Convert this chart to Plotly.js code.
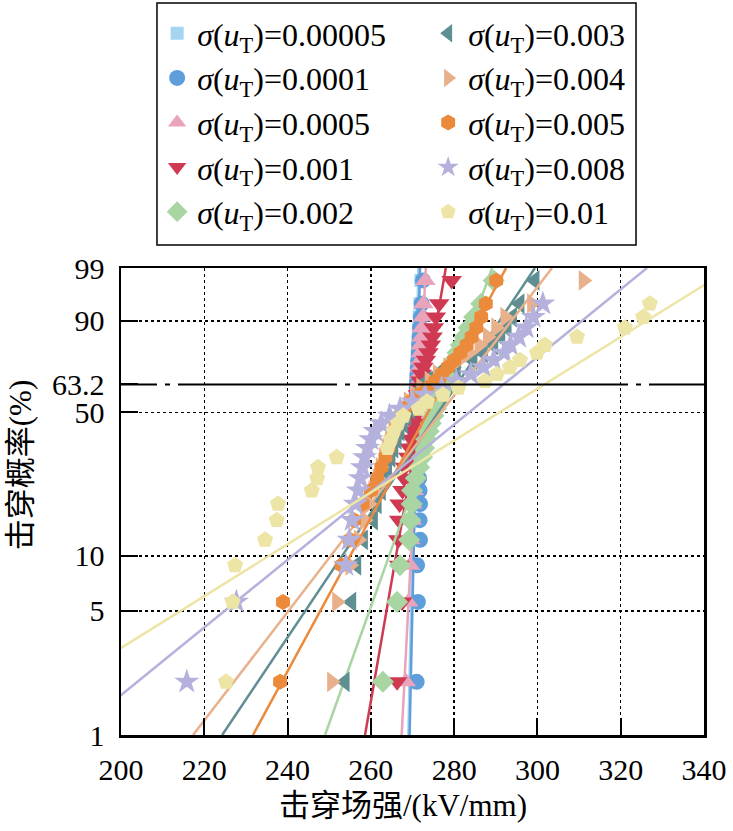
<!DOCTYPE html>
<html><head><meta charset="utf-8">
<script src="https://cdn.plot.ly/plotly-3.0.1.min.js"></script>
<style>html,body{margin:0;padding:0;background:#fff}</style>
</head><body><div id="chart" style="width:733px;height:831px"></div>
<script>
// Breakdown probability levels (%) shared by all series (median ranks)
const probLevels = [2.0, 5.6, 8.9, 12.2, 15.5, 18.8, 22.0, 25.3, 28.6, 31.9, 35.2, 38.5, 41.8, 45.1, 48.4, 51.6, 54.9, 58.2, 61.5, 64.8, 68.1, 71.4, 74.7, 78.0, 81.3, 84.5, 87.8, 91.1, 94.4, 98.0];

const sigmaLabels = ['0.00005', '0.0001', '0.0005', '0.001', '0.002', '0.003', '0.004', '0.005', '0.008', '0.01'];

// Breakdown field strength (kV/mm) for each series
const s_00005 = [270.5, 270.8, 270.7, 271.2, 271.2, 271.3, 271.2, 271.1, 271.0, 270.9, 270.8, 270.7, 270.6, 270.6, 270.6, 270.6, 270.7, 270.7, 270.8, 270.8, 270.9, 271.0, 271.1, 271.2, 271.3, 271.4, 271.5, 271.6, 271.8, 272.0];
const s_0001 = [271.0, 271.3, 271.1, 271.8, 271.7, 271.8, 271.7, 271.6, 271.4, 271.3, 271.2, 271.0, 270.9, 270.9, 270.8, 270.9, 270.9, 271.0, 271.0, 271.1, 271.2, 271.3, 271.4, 271.5, 271.6, 271.7, 271.8, 272.0, 272.2, 272.5];
const s_0005 = [268.4, 269.0, 269.4, 269.5, 269.9, 270.0, 270.3, 270.3, 270.5, 270.6, 270.6, 270.8, 270.9, 270.9, 271.1, 271.2, 271.2, 271.4, 271.4, 271.6, 271.7, 271.7, 271.9, 272.0, 272.0, 272.2, 272.3, 272.5, 272.6, 273.1];
const s_001 = [266.3, 267.5, 266.8, 266.6, 266.8, 266.9, 267.6, 268.0, 268.2, 269.0, 269.3, 269.8, 270.0, 270.3, 270.5, 270.8, 271.0, 271.3, 271.6, 271.9, 272.2, 272.6, 273.2, 273.8, 274.4, 274.8, 275.1, 275.6, 276.4, 279.4];
const s_002 = [262.9, 266.3, 267.0, 269.2, 269.5, 269.8, 269.9, 270.8, 271.6, 272.3, 272.8, 273.3, 273.9, 274.4, 275.0, 275.6, 276.1, 276.7, 277.3, 278.0, 278.6, 279.3, 280.0, 280.8, 281.6, 282.5, 283.5, 284.8, 286.5, 289.5];
const s_003 = [253.8, 255.4, 256.6, 258.2, 260.6, 261.5, 262.5, 263.2, 264.0, 264.8, 265.5, 266.3, 267.0, 267.8, 268.6, 269.5, 270.4, 271.3, 272.3, 273.5, 276.0, 280.5, 284.5, 287.0, 289.5, 291.2, 292.7, 294.0, 295.8, 299.4];
const s_004 = [250.6, 251.8, 255.0, 257.0, 258.5, 259.5, 260.5, 261.5, 262.3, 263.0, 263.8, 264.5, 265.3, 266.0, 267.0, 268.0, 269.0, 270.5, 272.0, 274.0, 276.0, 278.5, 281.0, 283.5, 286.0, 288.0, 290.0, 292.2, 298.6, 311.0];
const s_005 = [238.2, 238.9, 253.0, 255.0, 256.0, 258.0, 260.0, 261.5, 262.5, 263.5, 264.2, 264.8, 265.5, 266.2, 267.0, 268.0, 269.5, 271.5, 273.5, 275.5, 277.0, 278.5, 280.0, 281.5, 283.0, 284.2, 285.3, 286.5, 287.6, 290.1];
const s_008 = [215.8, 227.7, 254.0, 254.8, 255.5, 256.3, 257.0, 257.5, 258.0, 258.5, 259.2, 260.0, 261.0, 262.5, 264.5, 267.0, 270.0, 273.0, 277.0, 280.5, 284.0, 287.0, 289.5, 292.0, 293.5, 295.5, 297.3, 299.0, 301.3, 345.0];
const s_01 = [225.2, 226.8, 227.4, 234.6, 237.4, 237.7, 245.8, 247.1, 247.3, 251.8, 264.0, 264.8, 265.5, 266.5, 267.8, 271.5, 273.5, 277.3, 281.0, 287.4, 290.3, 293.4, 295.8, 299.9, 301.8, 309.5, 321.0, 325.4, 327.0, 346.0];

// Weibull fit lines: field strength at 1 % and at 99 % probability
const fitAt1 = [269.0, 269.3, 267.4, 258.6, 249.0, 224.3, 217.3, 231.7, 188.2, 166.4];
const fitAt99 = [271.4, 271.8, 273.2, 278.0, 289.1, 299.4, 303.5, 292.5, 326.3, 346.6];

const xTicks = [200, 220, 240, 260, 280, 300, 320, 340];
const yTickLabels = ['1', '5', '10', '50', '63.2', '90', '99'];
const yTickProbs = [1, 5, 10, 50, 63.2, 90, 99];
const yGridProbs = [5, 10, 50, 90];

const seriesData = [s_00005, s_0001, s_0005, s_001, s_002, s_003, s_004, s_005, s_008, s_01];
const colors = ['#a4d4f2', '#5d9edb', '#e9a3bb', '#cf3a52', '#a9d5a3', '#5f8e93', '#e8b18c', '#ec8a3c', '#b4b2dc', '#ece5a5'];
const symbols = ['square', 'circle', 'triangle-up', 'triangle-down', 'diamond', 'triangle-left', 'triangle-right', 'hexagon', 'star', 'pentagon'];
const sizes = [13, 16, 18, 18, 17, 18, 18, 16, 19, 17];

function weib(p) { return Math.log(-Math.log(1 - p / 100)); }
const yLo = weib(1), yHi = weib(99);
const yLevels = probLevels.map(weib);

const serif = 'Liberation Serif, Times New Roman, serif';
const traces = [];
seriesData.forEach((xs, i) => {
  const rank = i < 5 ? 2 * i : 2 * (i - 5) + 1;
  traces.push({
    type: 'scatter', mode: 'markers', x: xs, y: yLevels,
    name: '<i>σ</i>(<i>u</i><sub>T</sub>)=' + sigmaLabels[i],
    legendrank: rank,
    marker: { symbol: symbols[i], size: sizes[i], color: colors[i], line: { width: 0 } },
    hoverinfo: 'x+y'
  });
  traces.push({
    type: 'scatter', mode: 'lines', x: [fitAt1[i], fitAt99[i]], y: [yLo, yHi],
    showlegend: false, line: { color: colors[i], width: 2.5 }, hoverinfo: 'skip'
  });
});

const layout = {
  width: 733, height: 831,
  margin: { l: 121, r: 29, t: 268, b: 96, autoexpand: false },
  paper_bgcolor: '#fff', plot_bgcolor: '#fff',
  showlegend: true,
  font: { family: serif, size: 30, color: '#000' },
  xaxis: {
    range: [200, 340], tickvals: xTicks, ticktext: xTicks.map(String),
    ticks: 'inside', ticklen: 17, tickwidth: 2, tickcolor: '#000',
    showline: true, linewidth: 2.5, linecolor: '#000', mirror: true,
    showgrid: true, gridcolor: '#000', griddash: 'dot', gridwidth: 1.5,
    zeroline: false, ticklabelstandoff: 6, automargin: false,
    tickfont: { family: serif, size: 30, color: '#000' }
  },
  yaxis: {
    range: [yLo, yHi], tickvals: yTickProbs.map(weib), ticktext: yTickLabels,
    ticks: 'inside', ticklen: 17, tickwidth: 2, tickcolor: '#000',
    showline: true, linewidth: 2.5, linecolor: '#000', mirror: true,
    showgrid: false, zeroline: false, ticklabelstandoff: 8, automargin: false,
    minor: { tickvals: yGridProbs.map(weib), showgrid: true, gridcolor: '#000', griddash: 'dot', gridwidth: 1.5, ticks: '' },
    tickfont: { family: serif, size: 30, color: '#000' }
  },
  legend: {
    orientation: 'h', x: 0.062, y: 1.561, xanchor: 'left', yanchor: 'top',
    entrywidth: 226, entrywidthmode: 'pixels', traceorder: 'normal',
    font: { family: serif, size: 32, color: '#000' },
    bgcolor: 'rgba(0,0,0,0)', borderwidth: 0, itemclick: false
  },
  shapes: [
    { type: 'line', xref: 'paper', x0: 0, x1: 1, yref: 'y', y0: weib(63.2), y1: weib(63.2),
      line: { color: '#000', width: 2, dash: '36px,8px,5px,8px,159px,8px,5px,8px,270px,8px,5px,8px,120px' } },
    { type: 'rect', xref: 'paper', yref: 'paper', x0: 0.0617, x1: 0.8834, y0: 1.0493, y1: 1.5675,
      line: { color: '#000', width: 1.5 }, fillcolor: 'rgba(0,0,0,0)' }
  ],
  annotations: [
    { text: '击穿场强/(kV/mm)', xref: 'paper', yref: 'paper', x: 0.484, y: -0.152,
      xanchor: 'center', yanchor: 'middle', showarrow: false,
      font: { family: 'Liberation Serif, Noto Sans CJK SC', size: 31, color: '#000' } },
    { text: '击穿概率(%)', xref: 'paper', yref: 'paper', x: -0.173, y: 0.578,
      xanchor: 'center', yanchor: 'middle', textangle: -90, showarrow: false,
      font: { family: 'Liberation Serif, Noto Sans CJK SC', size: 31, color: '#000' } }
  ]
};

Plotly.newPlot('chart', traces, layout, { staticPlot: true, displayModeBar: false });
</script>
</body></html>
